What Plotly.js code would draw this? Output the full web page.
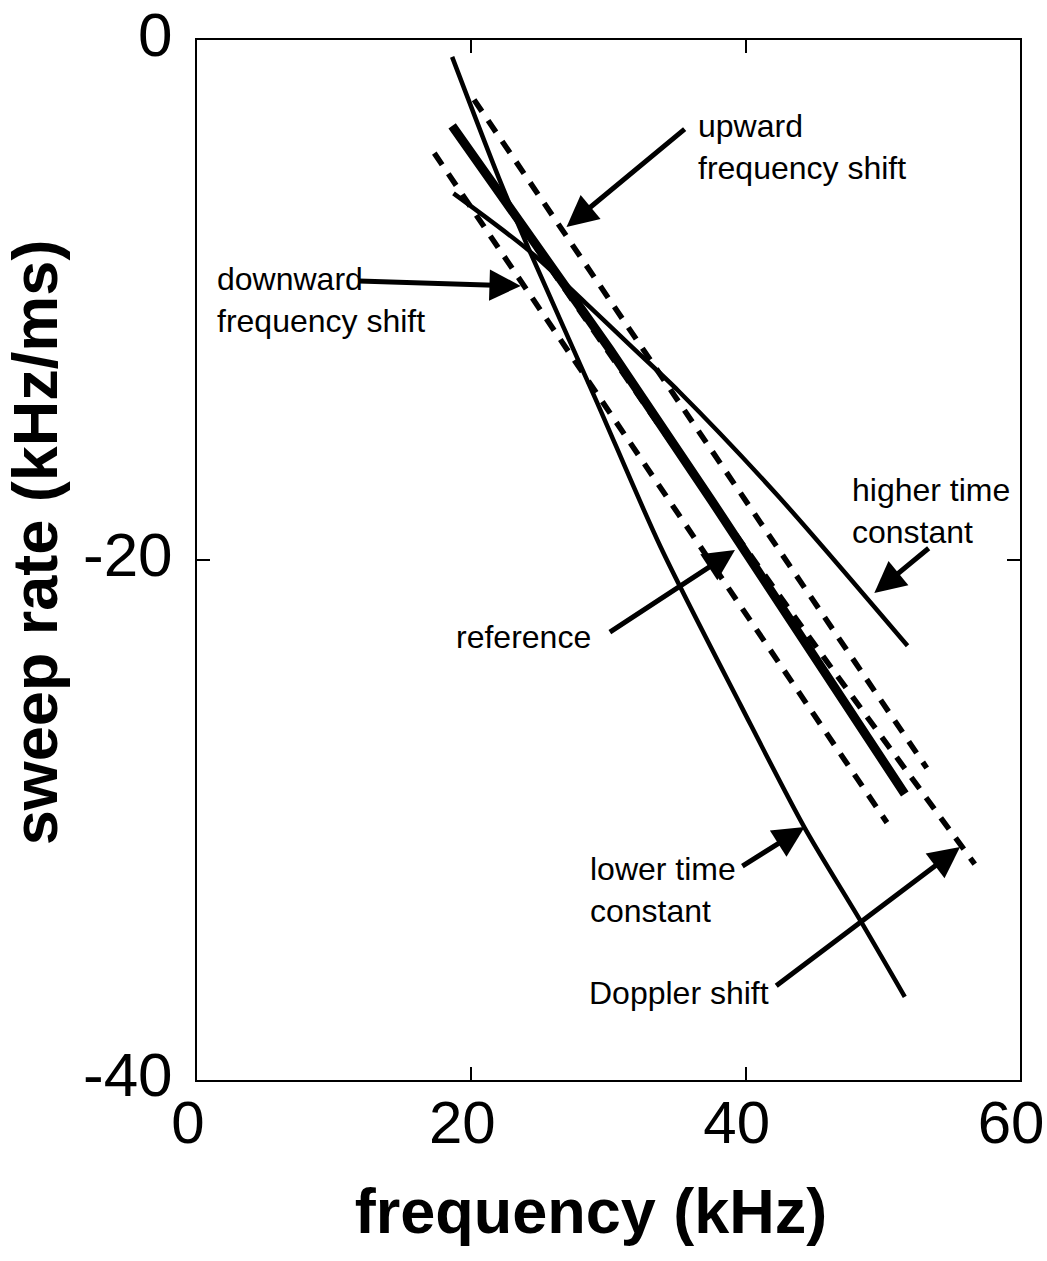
<!DOCTYPE html>
<html>
<head>
<meta charset="utf-8">
<script src="https://cdn.plot.ly/plotly-3.0.1.min.js"></script>
<style>html,body{margin:0;padding:0;background:#fff;}#chart{width:1047px;height:1261px;}</style>
</head>
<body>
<div id="chart"></div>
<script>
// frequency (kHz) and sweep rate (kHz/ms)
const refFreq = [18.6, 30.1, 37.5, 51.6];
const refRate = [-3.3, -11.9, -17.7, -29.0];

const lowerTcFreq = [18.6, 22.0, 24.2, 29.05, 33.8, 39.65, 44.3, 48.4, 51.6];
const lowerTcRate = [-0.65, -5.3, -8.05, -13.8, -19.5, -25.6, -30.3, -33.9, -36.8];

const higherTcFreq = [18.7, 24.2, 28.3, 31.7, 35.1, 42.3, 51.8];
const higherTcRate = [-5.9, -8.1, -10.1, -11.8, -13.5, -17.5, -23.3];

const upShiftFreq = [20.2, 53.2];
const upShiftRate = [-2.3, -28.0];

const downShiftFreq = [17.3, 50.3];
const downShiftRate = [-4.35, -30.1];

const dopplerFreq = [20.55, 37.5, 45.5, 56.7];
const dopplerRate = [-4.8, -17.7, -23.6, -31.7];

const xTicks = [0, 20, 40, 60];
const yTicks = [-40, -20, 0];

const FONT = 'Liberation Sans, Arial, Helvetica, sans-serif';
const dash = '14px,11px';
const NB = '\u00A0';

const traces = [
  {x: lowerTcFreq, y: lowerTcRate, mode: 'lines', line: {color: '#000', width: 4.5, shape: 'spline', smoothing: 0.8}},
  {x: higherTcFreq, y: higherTcRate, mode: 'lines', line: {color: '#000', width: 4.5, shape: 'spline', smoothing: 0.8}},
  {x: upShiftFreq, y: upShiftRate, mode: 'lines', line: {color: '#000', width: 5.5, dash: dash}},
  {x: downShiftFreq, y: downShiftRate, mode: 'lines', line: {color: '#000', width: 5.5, dash: dash}},
  {x: dopplerFreq, y: dopplerRate, mode: 'lines', line: {color: '#000', width: 5.5, dash: dash, shape: 'spline', smoothing: 0.6}},
  {x: refFreq, y: refRate, mode: 'lines', line: {color: '#000', width: 9}}
];

function arrow(hx, hy, tx, ty) {
  return {x: hx, y: hy, ax: tx, ay: ty, xref: 'x', yref: 'y', axref: 'x', ayref: 'y',
    text: '', showarrow: true, arrowhead: 2, arrowsize: 1.25, arrowwidth: 5,
    arrowcolor: '#000', standoff: 0, startstandoff: 0};
}
function label(x, y, text) {
  return {x: x, y: y, xref: 'x', yref: 'y', text: text, showarrow: false,
    xanchor: 'left', yanchor: 'middle', align: 'left',
    font: {family: FONT, size: 32, color: '#000'}};
}

const annotations = [
  arrow(26.94, -7.19, 35.66, -3.38),
  label(36.4, -4.1, 'upward<br>frequency shift'),
  arrow(23.6, -9.46, 11.69, -9.27),
  label(1.3, -10.0, 'downward<br>frequency shift'),
  arrow(49.38, -21.27, 53.45, -19.5),
  label(47.6, -18.1, 'higher time<br>constant'),
  arrow(39.22, -19.62, 29.99, -22.81),
  label(18.7, -22.95, 'reference'),
  arrow(44.3, -30.27, 39.65, -31.81),
  label(28.5, -32.7, 'lower time<br>constant'),
  arrow(55.63, -31.04, 42.12, -36.42),
  label(28.4, -36.65, 'Doppler shift')
];

const axisCommon = {
  showline: true, linecolor: '#000', linewidth: 2, mirror: 'ticks',
  ticks: 'inside', ticklen: 13, tickwidth: 2, tickcolor: '#000',
  showgrid: false, zeroline: false, fixedrange: true,
  ticklabeloverflow: 'allow'
};

const layout = {
  width: 1047, height: 1261,
  margin: {l: 197, r: 27, t: 40, b: 181},
  paper_bgcolor: '#fff', plot_bgcolor: '#fff',
  showlegend: false,
  xaxis: Object.assign({}, axisCommon, {
    range: [0, 60], tickmode: 'array', tickvals: xTicks, ticktext: xTicks.map(String),
    tickfont: {family: FONT, size: 60, color: '#000'},
    ticklabelstandoff: -11, ticklabelshift: -9,
    title: {text: '<b>frequency (kHz)' + NB + NB + '</b>', font: {family: FONT, size: 63, color: '#000'}, standoff: 34}
  }),
  yaxis: Object.assign({}, axisCommon, {
    range: [-40, 0], tickmode: 'array', tickvals: yTicks, ticktext: yTicks.map(String),
    tickfont: {family: FONT, size: 62, color: '#000'},
    ticklabelstandoff: 10, ticklabelshift: -6,
    title: {text: '<b>' + NB + NB + 'sweep rate (kHz/ms)</b>', font: {family: FONT, size: 63, color: '#000'}, standoff: 10}
  }),
  annotations: annotations
};

Plotly.newPlot('chart', traces, layout, {displayModeBar: false, staticPlot: true});
</script>
</body>
</html>
